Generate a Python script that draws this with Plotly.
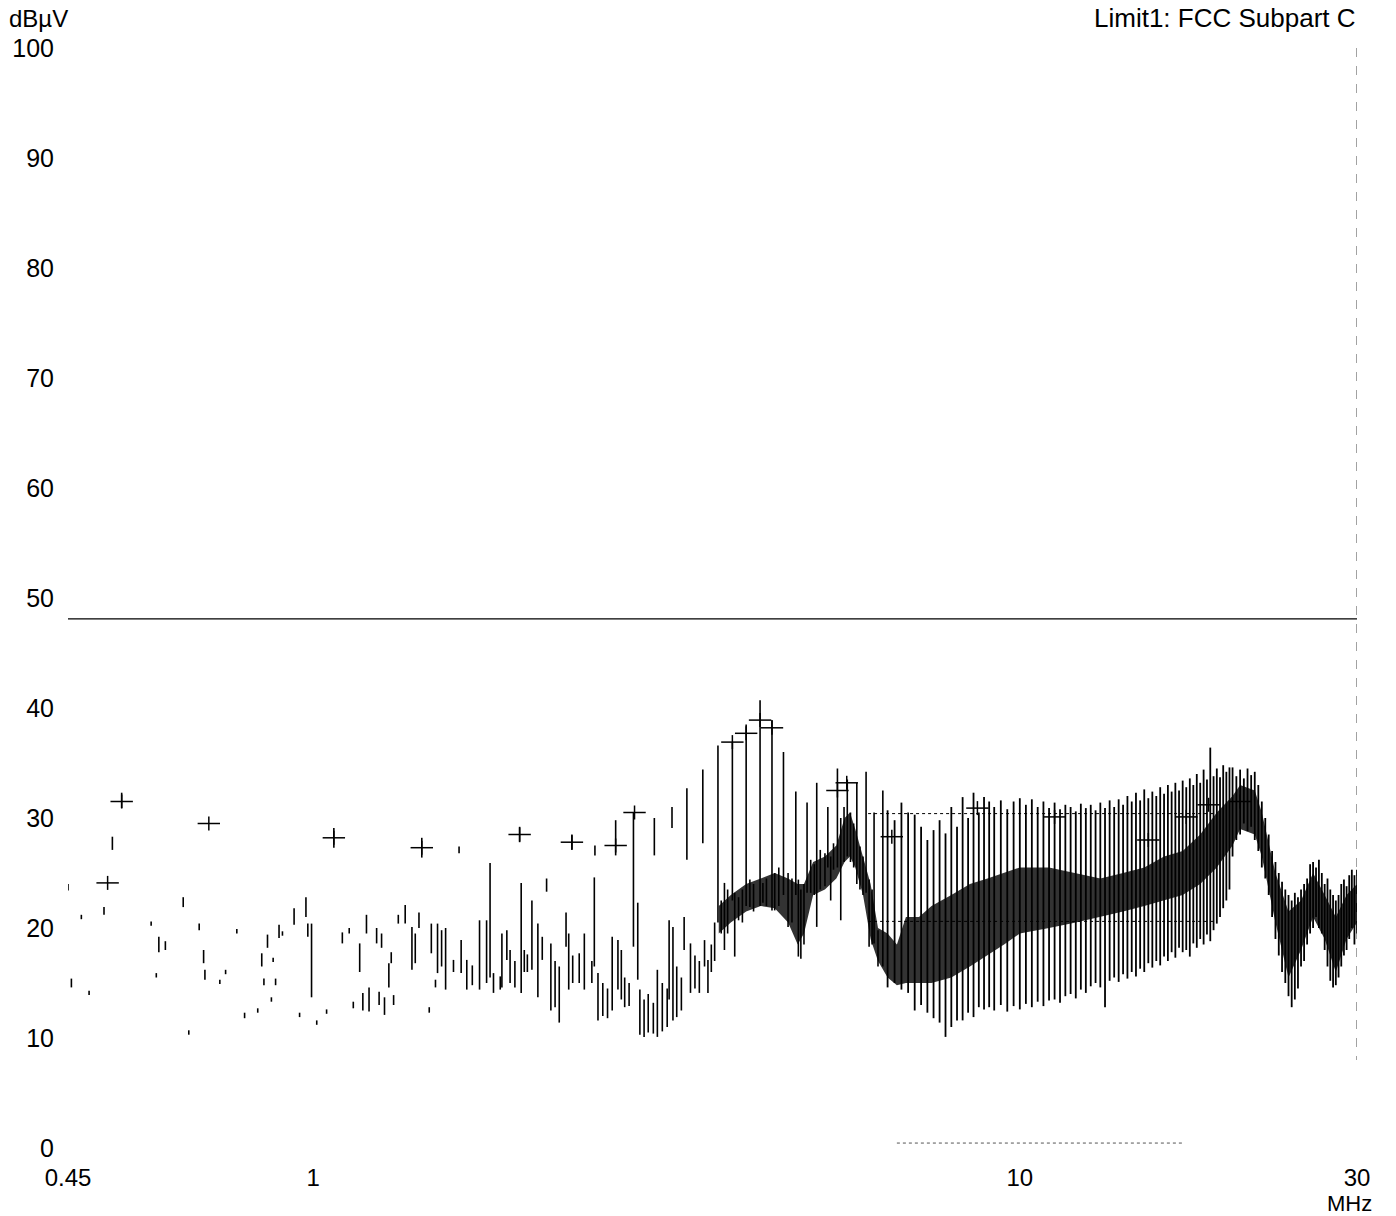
import math
import plotly.graph_objects as go

# ---------------- data ----------------
# Scattered / discrete emission strokes, 0.45 - 6.4 MHz (freq MHz, min dBuV, max dBuV)
low_f = [0.450, 0.455, 0.470, 0.482, 0.506, 0.520, 0.536, 0.590, 0.600, 0.605,
         0.618, 0.655, 0.667, 0.690, 0.700, 0.703, 0.738, 0.752, 0.780, 0.800,
         0.835, 0.846, 0.852, 0.862, 0.873, 0.878, 0.885, 0.895, 0.905, 0.940,
         0.957, 0.977, 0.983, 0.995, 1.012, 1.045, 1.070, 1.100, 1.125, 1.140,
         1.164, 1.176, 1.190, 1.200, 1.230, 1.240, 1.250, 1.262, 1.280, 1.290,
         1.300, 1.320, 1.350, 1.380, 1.395, 1.412, 1.425, 1.460, 1.470, 1.490,
         1.500, 1.520, 1.540, 1.580, 1.609, 1.620, 1.650, 1.680, 1.720, 1.760,
         1.780, 1.800, 1.840, 1.850, 1.880, 1.900, 1.930, 1.960, 1.970, 1.990,
         2.010, 2.040, 2.080, 2.110, 2.140, 2.170, 2.200, 2.230, 2.280, 2.300,
         2.324, 2.330, 2.380, 2.420, 2.480, 2.500, 2.505, 2.530, 2.570, 2.610,
         2.650, 2.680, 2.700, 2.730, 2.760, 2.800, 2.840, 2.880, 2.900, 2.940,
         2.980, 3.030, 3.040, 3.070, 3.120, 3.170, 3.190, 3.220, 3.230, 3.270,
         3.320, 3.350, 3.380, 3.420, 3.470, 3.520, 3.560, 3.580, 3.620, 3.660,
         3.700, 3.740, 3.780, 3.820, 3.860, 3.920, 3.950, 4.000, 4.050, 4.100,
         4.150, 4.200, 4.290, 4.330, 4.380, 4.460, 4.500, 4.560, 4.630, 4.700,
         4.760, 4.820, 4.860, 4.900, 4.950, 5.000, 5.060, 5.120, 5.160, 5.220,
         5.300, 5.350, 5.400, 5.450, 5.520, 5.580, 5.640, 5.700, 5.760, 5.820,
         5.880, 5.940, 6.000, 6.060, 6.120, 6.180, 6.220, 6.300, 6.400]
low_lo = [23.4, 14.6, 20.8, 13.9, 21.2, 27.1, 30.9, 20.2, 15.5, 17.8,
          18.0, 21.9, 10.3, 19.8, 16.8, 15.3, 14.9, 15.8, 19.5, 11.8,
          12.3, 16.5, 14.8, 18.2, 13.3, 16.9, 14.8, 19.1, 19.3, 20.3,
          11.9, 21.0, 19.2, 13.7, 11.2, 12.2, 27.3, 18.6, 19.5, 12.7,
          16.0, 12.5, 19.5, 12.4, 18.6, 13.0, 18.2, 12.1, 14.6, 16.8,
          13.0, 20.4, 20.4, 16.2, 16.8, 20.0, 26.4, 12.3, 17.7, 14.6,
          15.9, 16.5, 14.4, 16.0, 26.8, 15.9, 14.4, 14.8, 14.4, 15.0,
          15.5, 14.1, 14.4, 14.6, 17.1, 15.0, 14.6, 27.8, 14.1, 16.0,
          16.0, 16.2, 13.7, 17.1, 23.3, 12.5, 12.8, 11.4, 18.3, 14.4,
          27.1, 15.0, 15.0, 14.4, 15.0, 16.5, 26.6, 11.6, 12.0, 11.8,
          12.5, 26.6, 14.4, 13.5, 12.8, 12.9, 18.3, 15.3, 10.3, 10.1,
          10.5, 10.4, 26.6, 10.1, 10.6, 11.0, 13.5, 29.1, 11.6, 11.9,
          12.5, 18.0, 26.2, 14.1, 14.5, 14.1, 27.7, 16.5, 14.1, 16.0,
          17.0, 20.5, 19.5, 18.0, 19.5, 22.5, 17.4, 20.7, 20.5, 22.0,
          21.9, 21.5, 22.0, 22.3, 22.0, 21.6, 21.6, 22.0, 23.0, 20.1,
          20.5, 23.0, 17.4, 17.2, 18.5, 23.2, 23.2, 23.0, 20.1, 23.5,
          23.8, 25.5, 22.5, 25.3, 25.5, 20.7, 26.0, 26.5, 26.0, 25.5,
          24.0, 23.5, 23.0, 23.2, 18.3, 18.5, 18.6, 16.5, 16.5]
low_hi = [24.0, 15.4, 21.2, 14.3, 21.9, 28.3, 32.3, 20.6, 15.9, 19.2,
          18.8, 22.8, 10.7, 20.4, 18.0, 16.2, 15.3, 16.2, 19.9, 12.3,
          12.7, 17.7, 15.4, 19.4, 13.7, 17.3, 15.4, 20.3, 19.7, 21.8,
          12.3, 22.8, 20.4, 20.4, 11.6, 12.6, 29.1, 19.6, 20.0, 13.3,
          18.6, 14.1, 21.2, 14.6, 20.0, 14.2, 19.5, 13.7, 16.8, 17.8,
          13.9, 21.2, 22.1, 20.1, 19.5, 21.4, 28.2, 12.8, 20.4, 15.3,
          20.4, 19.8, 20.0, 17.1, 27.4, 18.9, 17.1, 16.6, 20.7, 20.7,
          25.9, 15.9, 15.6, 19.5, 19.8, 18.0, 17.0, 29.2, 24.1, 18.0,
          17.6, 22.5, 20.4, 19.2, 24.5, 18.6, 17.0, 16.5, 21.4, 19.5,
          28.5, 17.5, 17.7, 19.5, 17.0, 24.6, 27.5, 15.9, 15.0, 14.5,
          19.2, 29.8, 18.9, 18.0, 15.5, 15.0, 30.5, 22.3, 14.4, 13.5,
          14.0, 13.2, 30.0, 16.2, 15.0, 14.5, 20.7, 31.0, 20.1, 16.5,
          15.5, 21.0, 32.7, 18.6, 17.5, 17.0, 34.4, 18.9, 17.1, 18.5,
          20.5, 36.6, 22.5, 24.1, 23.5, 36.9, 23.2, 22.8, 23.5, 38.5,
          24.4, 24.0, 40.7, 24.1, 24.5, 38.9, 25.0, 25.5, 36.0, 25.0,
          24.5, 32.4, 24.4, 23.5, 24.0, 31.4, 26.2, 25.8, 33.2, 27.1,
          26.8, 31.0, 26.5, 27.7, 34.5, 30.0, 31.0, 33.5, 30.5, 29.5,
          33.2, 27.4, 26.5, 34.2, 24.4, 23.5, 30.5, 19.8, 32.5]

# Harmonic comb, 6.5 - 19.8 MHz
comb_f = [6.50, 6.65, 6.80, 6.95, 7.10, 7.25, 7.40, 7.55, 7.70, 7.85,
          8.00, 8.15, 8.30, 8.45, 8.60, 8.75, 8.90, 9.05, 9.20, 9.40,
          9.60, 9.80, 10.0, 10.2, 10.4, 10.6, 10.8, 11.0, 11.2, 11.4,
          11.6, 11.8, 12.0, 12.2, 12.4, 12.6, 12.8, 13.0, 13.2, 13.4,
          13.6, 13.8, 14.0, 14.2, 14.4, 14.6, 14.8, 15.0, 15.2, 15.4,
          15.6, 15.8, 16.0, 16.2, 16.4, 16.6, 16.8, 17.0, 17.2, 17.4,
          17.6, 17.8, 18.0, 18.2, 18.4, 18.6, 18.8, 19.0, 19.2, 19.4,
          19.6, 19.8]
comb_lo = [14.6, 15.0, 14.4, 14.1, 12.5, 13.0, 12.3, 11.8, 11.4, 10.1,
           11.0, 11.6, 11.6, 12.3, 11.9, 12.8, 12.6, 12.8, 12.5, 13.0,
           12.4, 12.9, 12.6, 13.1, 12.8, 13.3, 12.9, 13.4, 13.5, 13.2,
           13.8, 14.0, 13.6, 14.4, 14.1, 14.7, 15.0, 14.6, 12.8, 15.2,
           15.5, 15.1, 15.8, 15.4, 16.0, 15.6, 16.3, 16.0, 16.8, 16.4,
           17.0, 16.6, 17.4, 17.0, 17.8, 17.3, 18.2, 17.8, 18.0, 17.4,
           18.6, 18.2, 19.0, 18.5, 19.4, 18.8, 19.8, 20.4, 21.0, 21.8,
           22.5, 23.5]
comb_hi = [30.7, 29.8, 31.4, 30.5, 30.3, 29.2, 28.0, 28.9, 29.8, 28.6,
           31.0, 29.2, 31.9, 30.0, 32.3, 30.5, 31.9, 31.5, 31.0, 31.6,
           30.8, 31.5, 31.8, 31.2, 31.7, 31.0, 31.5, 30.9, 31.4, 30.8,
           31.2, 31.0, 30.6, 31.3, 30.9, 31.2, 30.7, 31.4, 30.9, 31.6,
           31.0, 31.7, 31.2, 32.0, 31.5, 32.3, 31.6, 32.6, 31.8, 32.4,
           32.0, 32.8, 32.2, 33.0, 32.4, 33.2, 32.5, 33.4, 32.8, 33.6,
           33.0, 34.0, 33.2, 34.4, 33.5, 36.4, 33.8, 34.5, 33.7, 34.8,
           34.2, 34.6]

# Broadband noise, 20 - 30 MHz
hf_f = [20.0, 20.25, 20.5, 20.75, 21.0, 21.25, 21.5, 21.75, 22.0, 22.25,
        22.5, 22.75, 23.0, 23.25, 23.5, 23.75, 24.0, 24.25, 24.5, 24.75,
        25.0, 25.25, 25.5, 25.75, 26.0, 26.25, 26.5, 26.75, 27.0, 27.25,
        27.5, 27.75, 28.0, 28.25, 28.5, 28.75, 29.0, 29.25, 29.5, 29.75, 30.0]
hf_lo = [26.5, 28.0, 28.5, 29.5, 28.8, 29.2, 28.0, 27.0, 25.5, 24.5,
         23.0, 21.0, 19.0, 17.5, 16.0, 15.0, 13.8, 12.8, 13.5, 14.5,
         16.5, 17.0, 18.5, 19.5, 20.0, 21.0, 20.0, 19.5, 18.0, 16.5,
         15.2, 14.6, 14.8, 15.5, 16.5, 17.5, 18.0, 19.0, 20.0, 18.5, 19.5]
hf_hi = [34.6, 33.8, 34.4, 33.6, 34.5, 33.9, 34.2, 33.0, 31.5, 30.0,
         28.5, 27.0, 26.0, 25.0, 24.2, 23.5, 23.0, 22.5, 23.2, 22.8,
         23.5, 24.0, 24.5, 25.8, 26.0, 25.5, 26.2, 25.0, 24.0, 24.5,
         23.5, 23.0, 22.5, 23.0, 24.0, 24.4, 23.8, 24.8, 25.3, 24.8, 25.3]

# Dense core of the trace (where the sweep is solid)
core_f = [3.75, 3.90, 4.10, 4.30, 4.50, 4.70, 4.85, 4.95, 5.10, 5.30,
          5.50, 5.65, 5.75, 5.85, 6.00, 6.15, 6.30, 6.50, 6.70, 6.90,
          7.20, 7.50, 8.00, 8.50, 9.00, 9.50, 10.0, 11.0, 12.0, 13.0,
          14.0, 15.0, 16.0, 17.0, 18.0, 19.0, 20.0, 20.5, 21.5, 22.0,
          23.0, 24.0, 25.0, 26.0, 27.0, 28.0, 29.0, 30.0]
core_lo = [19.5, 20.5, 21.5, 22.0, 21.8, 20.5, 18.5, 19.5, 23.0, 23.5,
           24.5, 26.0, 26.5, 25.5, 23.0, 19.0, 17.0, 15.5, 14.8, 15.0,
           15.0, 15.0, 15.5, 16.5, 17.5, 18.5, 19.5, 20.0, 20.5, 21.0,
           21.5, 22.0, 22.5, 23.0, 24.0, 25.5, 27.5, 29.0, 28.5, 26.5,
           20.5, 15.5, 18.0, 21.0, 19.0, 16.0, 19.0, 20.5]
core_hi = [22.0, 23.0, 24.0, 24.5, 25.0, 24.5, 24.0, 24.0, 26.0, 26.5,
           27.5, 30.0, 30.5, 29.0, 26.5, 24.0, 20.0, 19.5, 18.5, 21.0,
           21.0, 22.0, 23.0, 24.0, 24.5, 25.0, 25.5, 25.5, 25.0, 24.5,
           25.0, 25.5, 26.5, 27.0, 28.5, 30.5, 32.0, 33.0, 32.5, 30.5,
           25.0, 21.5, 22.5, 25.0, 23.0, 21.0, 23.0, 24.0]

# Peak markers
marker_f = [0.512, 0.536, 0.712, 1.07, 1.425, 1.96, 2.324, 2.68, 2.85, 3.92,
            4.10, 4.29, 4.46, 5.52, 5.69, 6.59, 8.71, 11.2, 15.2, 17.2,
            18.5, 20.5]
marker_db = [24.1, 31.5, 29.5, 28.2, 27.3, 28.5, 27.8, 27.5, 30.5, 36.9,
             37.7, 38.9, 38.2, 32.5, 33.2, 28.3, 30.9, 30.1, 28.0, 30.1,
             31.2, 31.5]

# Limit line (FCC Subpart C)
limit_f = [0.45, 30.0]
limit_db = [48.1, 48.1]

# Dotted reference traces
dot_f = [6.1, 19.0]
dot_hi_db = [30.4, 30.4]
dot_lo_db = [20.6, 20.6]
floor_f = [6.7, 17.0]
floor_db = [0.45, 0.45]

y_ticks = [0, 10, 20, 30, 40, 50, 60, 70, 80, 90, 100]
x_ticks = [0.45, 1, 10, 30]
x_tick_labels = ["0.45", "1", "10", "30"]


def strokes(f, lo, hi):
    xs, ys = [], []
    for a, b, c in zip(f, lo, hi):
        xs += [a, a, None]
        ys += [b, c, None]
    return xs, ys


FONT = "Liberation Sans, Arial, sans-serif"
fig = go.Figure()

# core fill
fig.add_trace(go.Scatter(
    x=core_f + core_f[::-1], y=core_hi + core_lo[::-1],
    fill="toself", fillcolor="rgba(0,0,0,0.8)", line=dict(width=0),
    mode="lines", hoverinfo="skip", showlegend=False))

for f, lo, hi, w in [(low_f, low_lo, low_hi, 1.6),
                     (comb_f, comb_lo, comb_hi, 1.8),
                     (hf_f, hf_lo, hf_hi, 1.8)]:
    xs, ys = strokes(f, lo, hi)
    fig.add_trace(go.Scatter(x=xs, y=ys, mode="lines",
                             line=dict(color="black", width=w),
                             showlegend=False, hoverinfo="skip"))

# dotted traces
for yy in (dot_hi_db, dot_lo_db):
    fig.add_trace(go.Scatter(x=dot_f, y=yy, mode="lines",
                             line=dict(color="black", width=1, dash="dot"),
                             showlegend=False, hoverinfo="skip"))
fig.add_trace(go.Scatter(x=floor_f, y=floor_db, mode="lines",
                         line=dict(color="#555", width=1, dash="dot"),
                         showlegend=False, hoverinfo="skip"))

# right boundary (dashed)
fig.add_trace(go.Scatter(x=[30, 30], y=[100, 8], mode="lines",
                         line=dict(color="#444", width=1, dash="dash"),
                         showlegend=False, hoverinfo="skip"))

# limit line
fig.add_trace(go.Scatter(x=limit_f, y=limit_db, mode="lines",
                         line=dict(color="black", width=1.3),
                         showlegend=False, hoverinfo="skip"))

# markers (+)
fig.add_trace(go.Scatter(x=marker_f, y=marker_db, mode="markers",
                         marker=dict(symbol="line-ew", size=16,
                                     line=dict(color="black", width=1.5)),
                         showlegend=False, hoverinfo="skip"))
fig.add_trace(go.Scatter(x=marker_f, y=marker_db, mode="markers",
                         marker=dict(symbol="line-ns", size=10,
                                     line=dict(color="black", width=1.5)),
                         showlegend=False, hoverinfo="skip"))

fig.update_layout(
    width=1396, height=1216,
    margin=dict(l=68, r=39, t=48, b=68),
    paper_bgcolor="white", plot_bgcolor="white",
    font=dict(family=FONT, size=25, color="black"),
    xaxis=dict(type="log", range=[math.log10(0.45), math.log10(30)],
               showgrid=False, zeroline=False, showline=False, ticks="",
               tickvals=x_ticks, ticktext=x_tick_labels,
               ticklabelstandoff=13, tickfont=dict(size=24)),
    yaxis=dict(range=[0, 100], showgrid=False, zeroline=False, showline=False,
               ticks="", tickvals=y_ticks, ticklabelstandoff=13,
               tickfont=dict(size=25)),
    annotations=[
        dict(text="dBµV", xref="paper", yref="paper", x=-0.047, y=1.027,
             xanchor="left", yanchor="middle", showarrow=False,
             font=dict(size=24)),
        dict(text="Limit1: FCC Subpart C", xref="paper", yref="paper",
             x=1.001, y=1.027, xanchor="right", yanchor="middle",
             showarrow=False, font=dict(size=26)),
        dict(text="MHz", xref="paper", yref="paper", x=0.994, y=-0.0505,
             xanchor="center", yanchor="middle", showarrow=False,
             font=dict(size=22)),
    ],
)

fig.write_html("out.html")
